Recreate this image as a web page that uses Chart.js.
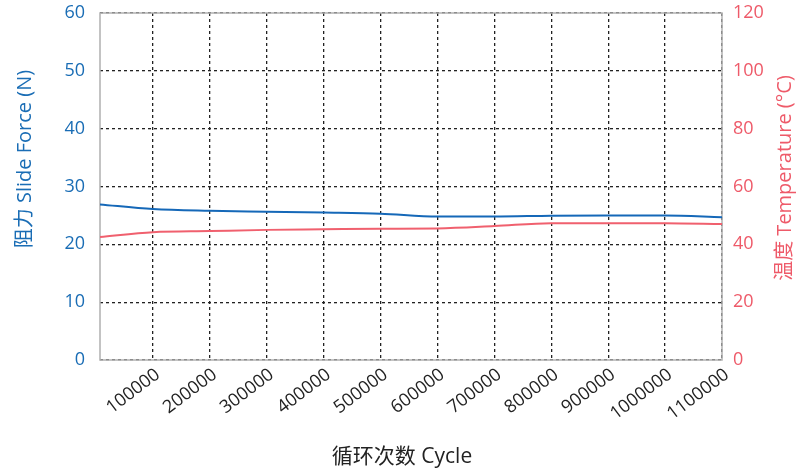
<!DOCTYPE html>
<html lang="zh">
<head>
    <meta charset="UTF-8">
    <title>阻力 / 温度 - Cycle</title>
    <script src="https://cdn.jsdelivr.net/npm/chart.js"></script>
    <style>
        body { margin: 0; background: #fff; }
        .chart-box { width: 807px; height: 472px; position: relative; }
    </style>
</head>
<body>
    <div class="chart-box">
        <canvas id="cycleChart"></canvas>
    </div>
    <script>
        // values
        const cycles = [7000, 100000, 200000, 300000, 400000, 500000, 600000, 700000, 800000, 900000, 1000000, 1100000];
        const slideForce = [26.9, 26.1, 25.8, 25.65, 25.5, 25.3, 24.8, 24.8, 24.95, 25.0, 25.0, 24.7];
        const temperature = [42.5, 44.2, 44.6, 45.0, 45.2, 45.4, 45.5, 46.3, 47.3, 47.3, 47.3, 47.0];

        const cycleTicks = [100000, 200000, 300000, 400000, 500000, 600000, 700000, 800000, 900000, 1000000, 1100000];
        const forceTicks = [0, 10, 20, 30, 40, 50, 60];
        const tempTicks = [0, 20, 40, 60, 80, 100, 120];

        const blue = '#1a6db5';
        const red = '#ee5a69';
        const fontFamily = '"Open Sans", "Noto Sans CJK SC", sans-serif';

        // box around the plot + axis titles (right one reads bottom-to-top)
        const titlesPlugin = {
            id: 'titles',
            beforeDatasetsDraw(chart) {
                const ctx = chart.ctx;
                const area = chart.chartArea;
                ctx.save();
                ctx.strokeStyle = '#b0b0b0';
                ctx.lineWidth = 1.5;
                ctx.strokeRect(area.left, area.top, area.right - area.left, area.bottom - area.top);
                ctx.restore();
            },
            afterDraw(chart) {
                const ctx = chart.ctx;
                ctx.save();
                ctx.textAlign = 'center';
                ctx.textBaseline = 'middle';

                ctx.font = '20px ' + fontFamily;
                ctx.fillStyle = blue;
                ctx.save();
                ctx.translate(25, 159);
                ctx.rotate(-Math.PI / 2);
                ctx.fillText('阻力 Slide Force (N)', 0, 0);
                ctx.restore();

                ctx.fillStyle = red;
                ctx.save();
                ctx.translate(785, 178);
                ctx.rotate(-Math.PI / 2);
                ctx.fillText('温度 Temperature (°C)', 0, 0);
                ctx.restore();

                ctx.font = '21px ' + fontFamily;
                ctx.fillStyle = '#222';
                ctx.fillText('循环次数 Cycle', 402, 457);
                ctx.restore();
            }
        };

        // fixed axis widths, and no extra room above the top tick label
        function fitVertical(width) {
            return s => {
                s.width = width;
                s.paddingTop = 2;
                s.paddingBottom = 2;
            };
        }

        const ctx = document.getElementById('cycleChart').getContext('2d');
        new Chart(ctx, {
            type: 'line',
            data: {
                datasets: [
                    {
                        label: '阻力 Slide Force (N)',
                        data: cycles.map((c, i) => ({ x: c, y: slideForce[i] })),
                        borderColor: '#1568b8',
                        borderWidth: 2,
                        pointRadius: 0,
                        cubicInterpolationMode: 'monotone',
                        yAxisID: 'y'
                    },
                    {
                        label: '温度 Temperature (°C)',
                        data: cycles.map((c, i) => ({ x: c, y: temperature[i] })),
                        borderColor: '#f0606e',
                        borderWidth: 2,
                        pointRadius: 0,
                        cubicInterpolationMode: 'monotone',
                        yAxisID: 'y1'
                    }
                ]
            },
            options: {
                responsive: true,
                maintainAspectRatio: false,
                animation: false,
                layout: { padding: { top: 13 } },
                plugins: {
                    legend: { display: false },
                    tooltip: { enabled: false }
                },
                scales: {
                    x: {
                        type: 'linear',
                        min: cycles[0],
                        max: cycles[cycles.length - 1],
                        afterFit: s => { s.height = 112; },
                        afterBuildTicks: s => { s.ticks = cycleTicks.map(v => ({ value: v })); },
                        grid: { color: '#222', lineWidth: 1.3, drawTicks: false },
                        border: { display: false, dash: [3, 3] },
                        ticks: {
                            autoSkip: false,
                            minRotation: 37,
                            maxRotation: 37,
                            padding: 4,
                            labelOffset: 5,
                            color: '#222',
                            font: { family: fontFamily, size: 18 },
                            callback: v => String(v)
                        }
                    },
                    y: {
                        position: 'left',
                        min: forceTicks[0],
                        max: forceTicks[forceTicks.length - 1],
                        afterFit: fitVertical(100),
                        afterBuildTicks: s => { s.ticks = forceTicks.map(v => ({ value: v })); },
                        grid: { color: '#222', lineWidth: 1.3, drawTicks: false },
                        border: { display: false, dash: [3, 3] },
                        ticks: {
                            padding: 15,
                            color: blue,
                            font: { family: fontFamily, size: 18 }
                        }
                    },
                    y1: {
                        position: 'right',
                        min: tempTicks[0],
                        max: tempTicks[tempTicks.length - 1],
                        afterFit: fitVertical(85),
                        afterBuildTicks: s => { s.ticks = tempTicks.map(v => ({ value: v })); },
                        grid: { display: false, drawTicks: false },
                        border: { display: false },
                        ticks: {
                            padding: 11,
                            color: red,
                            font: { family: fontFamily, size: 18 }
                        }
                    }
                }
            },
            plugins: [titlesPlugin]
        });
    </script>
</body>
</html>
